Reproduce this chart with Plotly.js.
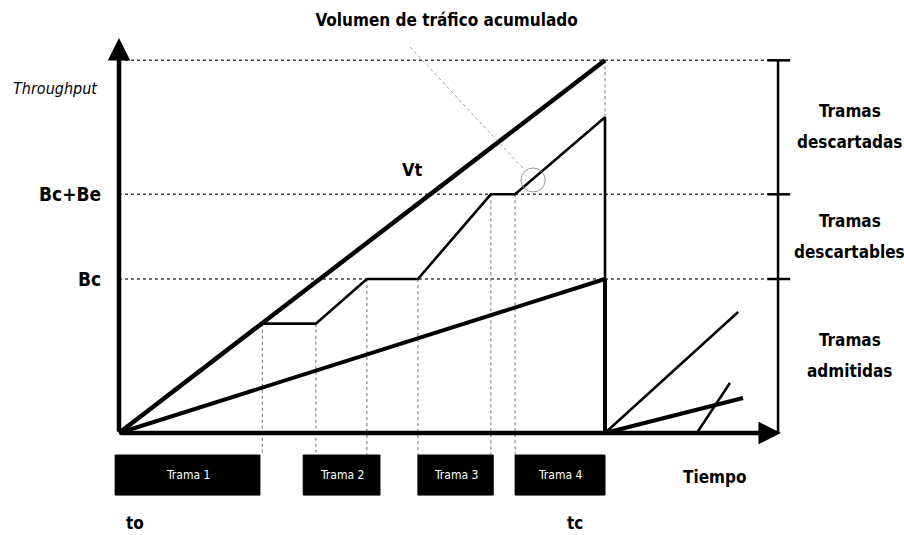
<!DOCTYPE html>
<html><head><meta charset="utf-8">
<script src="https://cdn.plot.ly/plotly-3.0.1.min.js"></script>
<style>html,body{margin:0;padding:0;background:#fff}</style>
</head><body><div id="chart" style="width:904px;height:535px"></div>
<script>
// ---- data (time units: to = 0, tc = 10; volume units: Bc = 100) ----
const vtTime = [0, 10];
const vtVolume = [0, 242];
const bcTime = [0, 10];
const bcVolume = [0, 100];
const accTime = [0, 2.95, 4.05, 5.1, 6.15, 7.65, 8.15, 10, 10];
const accVolume = [0, 71, 71, 100, 100, 155, 155, 205, 0];
const nextTime1 = [10, 12.74];
const nextVolume1 = [0, 78.6];
const nextTime2 = [10, 12.84];
const nextVolume2 = [0, 22.7];
const nextTime3 = [11.89, 12.57];
const nextVolume3 = [0, 32.5];
const levelValues = [100, 155, 242];
const levelLabels = ['Bc', 'Bc+Be', ''];
const regionTop = ['Tramas', 'Tramas', 'Tramas'];
const regionBottom = ['admitidas', 'descartables', 'descartadas'];
const frameNames = ['Trama 1', 'Trama 2', 'Trama 3', 'Trama 4'];
const frameStart = [-0.08, 3.79, 6.15, 8.15];
const frameEnd = [2.9, 5.37, 7.7, 10];
const timeLabels = ['to', 'tc'];
const timeValues = [0, 10];
const limitTime = 13.56;

const FONT = 'Liberation Sans Narrow, DejaVu Sans Condensed, Arial Narrow, sans-serif';
const traces = [];

// horizontal dotted reference levels
{
  const xs = [], ys = [];
  levelValues.forEach(v => { xs.push(0, limitTime, null); ys.push(v, v, null); });
  traces.push({x: xs, y: ys, mode: 'lines', line: {color: '#444', width: 1.5, dash: 'dot'}, hoverinfo: 'skip'});
}
// vertical dotted lines from the steps
{
  const xs = [], ys = [];
  for (let i = 1; i <= 6; i++) { xs.push(accTime[i], accTime[i], null); ys.push(accVolume[i], -14, null); }
  xs.push(accTime[7], accTime[7], null); ys.push(accVolume[7], levelValues[2], null);
  traces.push({x: xs, y: ys, mode: 'lines', line: {color: '#888', width: 1.2, dash: 'dot'}, hoverinfo: 'skip'});
}
// right bracket
{
  const xs = [limitTime, limitTime, null], ys = [0, levelValues[2], null];
  levelValues.forEach(v => { xs.push(limitTime - 0.22, limitTime + 0.25, null); ys.push(v, v, null); });
  traces.push({x: xs, y: ys, mode: 'lines', line: {color: '#000', width: 2.5}, hoverinfo: 'skip'});
}
traces.push({x: vtTime, y: vtVolume, mode: 'lines', line: {color: '#000', width: 4.5}, hoverinfo: 'skip'});
traces.push({x: bcTime, y: bcVolume, mode: 'lines', line: {color: '#000', width: 4}, hoverinfo: 'skip'});
traces.push({x: accTime, y: accVolume, mode: 'lines', line: {color: '#000', width: 2.6}, hoverinfo: 'skip'});
traces.push({x: [accTime[7], accTime[8]], y: [bcVolume[1], 0], mode: 'lines', line: {color: '#000', width: 4}, hoverinfo: 'skip'});
traces.push({x: nextTime1, y: nextVolume1, mode: 'lines', line: {color: '#000', width: 2.5}, hoverinfo: 'skip'});
traces.push({x: nextTime2, y: nextVolume2, mode: 'lines', line: {color: '#000', width: 4}, hoverinfo: 'skip'});
traces.push({x: nextTime3, y: nextVolume3, mode: 'lines', line: {color: '#000', width: 2.5}, hoverinfo: 'skip'});

const shapes = [];
frameNames.forEach((n, i) => {
  shapes.push({type: 'rect', xref: 'x', yref: 'y', x0: frameStart[i], x1: frameEnd[i], y0: -14.3, y1: -40.3,
    fillcolor: '#000', line: {color: '#000', width: 1}});
});
// highlight circle and pointer
shapes.push({type: 'circle', xref: 'x', yref: 'y', x0: 8.27, x1: 8.77, y0: 156.5, y1: 172.1, line: {color: '#999', width: 1}});
shapes.push({type: 'line', xref: 'x', yref: 'y', x0: 5.99, y0: 250.6, x1: 8.31, y1: 172, line: {color: '#999', width: 1, dash: 'dot'}});

const ann = [];
// axes arrows
ann.push({x: 13.62, y: 0, ax: 0, ay: 0, axref: 'x', ayref: 'y', xref: 'x', yref: 'y', text: '', showarrow: true,
  arrowhead: 2, arrowsize: 1, arrowwidth: 4.5, arrowcolor: '#000'});
ann.push({x: 0, y: 256.5, ax: 0, ay: 0, axref: 'x', ayref: 'y', xref: 'x', yref: 'y', text: '', showarrow: true,
  arrowhead: 2, arrowsize: 1, arrowwidth: 4.5, arrowcolor: '#000'});
ann.push({x: -0.39, y: 224, xref: 'x', yref: 'y', xanchor: 'right', text: '<i>Throughput</i>', showarrow: false,
  font: {family: FONT, size: 16, color: '#000'}});
levelValues.forEach((v, i) => {
  if (levelLabels[i]) ann.push({x: -0.33, y: v, xref: 'x', yref: 'y', xanchor: 'right', text: '<b>' + levelLabels[i] + '</b>',
    showarrow: false, font: {family: FONT, size: 19, color: '#000'}});
});
ann.push({x: 6.03, y: 170.8, xref: 'x', yref: 'y', text: '<b>Vt</b>', showarrow: false, font: {family: FONT, size: 18, color: '#000'}});
const bounds = [0].concat(levelValues);
regionTop.forEach((t, i) => {
  const mid = (bounds[i] + bounds[i + 1]) / 2;
  ann.push({x: 15.04, y: mid, xref: 'x', yref: 'y', yshift: 16, text: '<b>' + t + '</b>', showarrow: false, font: {family: FONT, size: 17, color: '#000'}});
  ann.push({x: 15.04, y: mid, xref: 'x', yref: 'y', yshift: -15, text: '<b>' + regionBottom[i] + '</b>', showarrow: false, font: {family: FONT, size: 17, color: '#000'}});
});
frameNames.forEach((n, i) => {
  ann.push({x: (frameStart[i] + frameEnd[i]) / 2, y: -27.3, xref: 'x', yref: 'y', text: n, showarrow: false,
    font: {family: FONT, size: 12, color: '#fff'}});
});
ann.push({x: 12.26, y: -28.6, xref: 'x', yref: 'y', text: '<b>Tiempo</b>', showarrow: false, font: {family: FONT, size: 17, color: '#000'}});
timeLabels.forEach((t, i) => {
  ann.push({x: timeValues[i] + (i === 0 ? 0.33 : -0.62), y: -58.2, xref: 'x', yref: 'y', text: '<b>' + t + '</b>', showarrow: false,
    font: {family: FONT, size: 17, color: '#000'}});
});

const layout = {
  width: 904, height: 535,
  margin: {l: 0, r: 0, t: 0, b: 0},
  paper_bgcolor: '#fff', plot_bgcolor: '#fff',
  showlegend: false,
  title: {text: '<b>Volumen de tráfico acumulado</b>', x: 0.494, xanchor: 'center', y: 0.963, yanchor: 'middle',
    font: {family: FONT, size: 17, color: '#000'}},
  xaxis: {range: [-2.4486, 16.152], visible: false, showgrid: false, zeroline: false, fixedrange: true},
  yaxis: {range: [-66.23, 281.17], visible: false, showgrid: false, zeroline: false, fixedrange: true},
  shapes: shapes,
  annotations: ann
};
Plotly.newPlot('chart', traces, layout, {displayModeBar: false, staticPlot: true});
</script>
</body></html>
